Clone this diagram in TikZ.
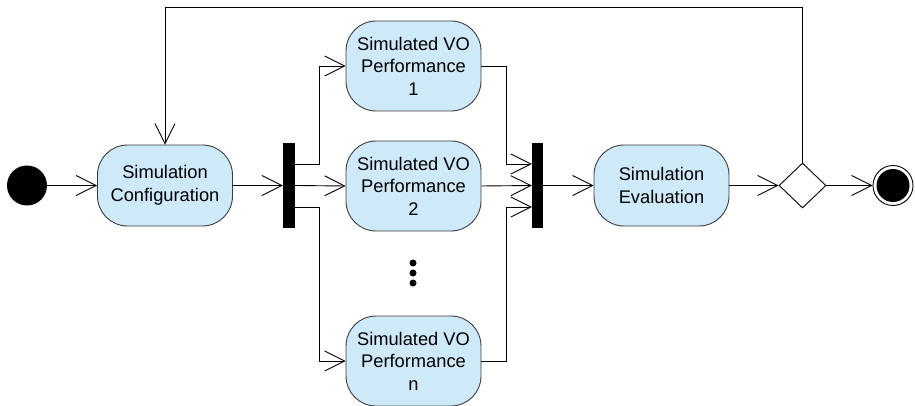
\documentclass[tikz,border=0pt]{standalone}
\usepackage{fontspec}
\setmainfont{Liberation Sans}
\usetikzlibrary{arrows.meta,shapes.geometric}
\definecolor{actfill}{RGB}{206,233,250}
\definecolor{actdraw}{RGB}{60,60,60}
\tikzset{
  act/.style={draw=actdraw, fill=actfill, line width=0.9pt, rounded corners=30pt,
    minimum width=135pt, align=center, inner sep=0pt,
    font=\fontsize{18.3}{22.5}\selectfont},
  bar/.style={fill=black, draw=none, minimum width=12pt, minimum height=85pt, inner sep=0pt},
  arr/.style={line width=0.9pt, -{Straight Barb[length=20pt,width=20pt,line width=0.9pt]}},
  ln/.style={line width=0.9pt},
}
\begin{document}
\begin{tikzpicture}[x=1pt,y=-1pt]
\useasboundingbox (0,0) rectangle (915,406);
\node[circle, fill=black, minimum size=40pt, inner sep=0pt] (init) at (27,185.5) {};
\node[act, minimum height=81pt] (conf) at (165,185.5) {Simulation\\Configuration};
\node[bar] (fork) at (289,185.5) {};
\node[act, minimum height=90pt] (s1) at (413.5,66) {Simulated VO\\Performance\\1};
\node[act, minimum height=90pt] (s2) at (413.5,186) {Simulated VO\\Performance\\2};
\node[act, minimum height=90pt] (sn) at (413.5,361) {Simulated VO\\Performance\\n};
\node[bar, minimum width=11pt] (join) at (537.5,185.5) {};
\node[act, minimum height=81pt] (eval) at (661.5,185.5) {Simulation\\Evaluation};
\node[diamond, draw=black, line width=0.9pt, minimum width=47pt, minimum height=45pt, inner sep=0pt] (dec) at (802.5,185.5) {};
\node[circle, draw=black, line width=0.9pt, minimum size=40pt, inner sep=0pt] (final) at (893,185.5) {};
\node[circle, fill=black, minimum size=33pt, inner sep=0pt] (finalin) at (final.center) {};
\foreach \yy [count=\i] in {263,273,283} \node[circle, fill=black, minimum size=7pt, inner sep=0pt] (dot\i) at (413,\yy) {};

\draw[arr] (init) -- (conf);
\draw[arr] (conf) -- (fork);
\draw[arr] ([yshift=21.5pt]fork.east) -- ++(24,0) |- (s1.west);
\draw[arr] (fork.east) -- (s2.west);
\draw[arr] ([yshift=-21.5pt]fork.east) -- ++(24,0) |- (sn.west);
\draw[arr] (s1.east) -| (506,164) -- ([yshift=21.5pt]join.west);
\draw[arr] (s2.east) -- (join.west);
\draw[arr] (sn.east) -| (506,207) -- ([yshift=-21.5pt]join.west);
\draw[arr] (join) -- (eval);
\draw[arr] (eval) -- (dec);
\draw[arr] (dec) -- (final);
\draw[arr] (dec.north) |- (conf.north |- 0,7) -- (conf.north);
\end{tikzpicture}
\end{document}
